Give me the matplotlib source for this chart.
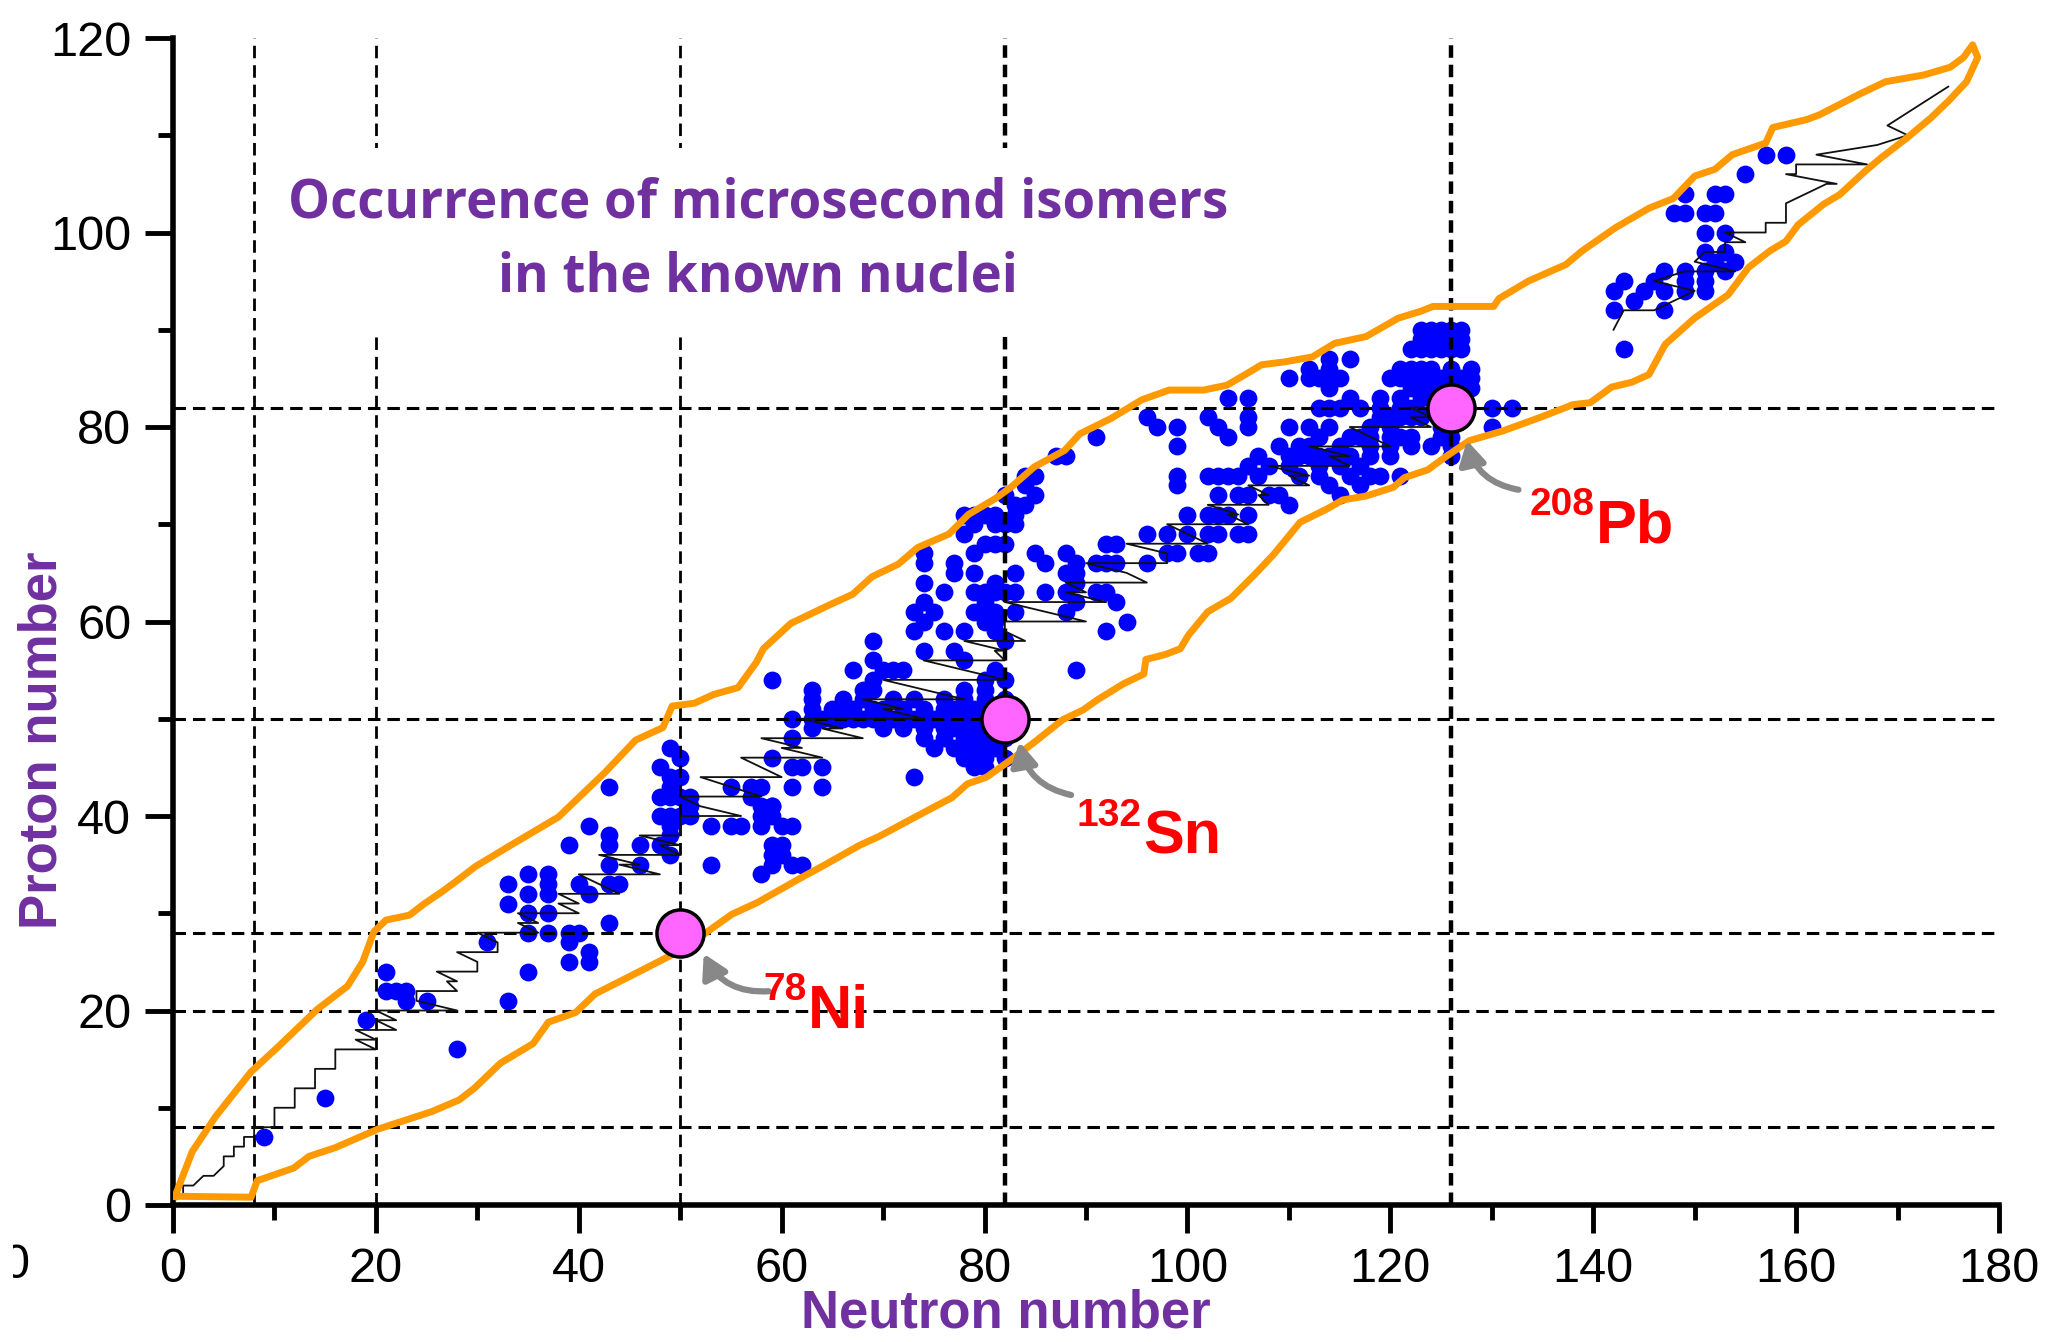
import matplotlib
matplotlib.use("Agg")
import matplotlib.pyplot as plt
from matplotlib.patches import FancyArrowPatch
from matplotlib.transforms import Bbox, TransformedBbox

plt.rcParams['font.family'] = ['Liberation Sans', 'DejaVu Sans']
plt.rcParams['lines.scale_dashes'] = False

# Magic numbers (dashed guide lines)
magic_n = [8, 20, 50, 82, 126]
magic_z = [8, 20, 28, 50, 82]

# Microsecond isomers, (N, Z)
iso_light = [(9, 7), (15, 11), (19, 19), (21, 24), (21, 22), (22, 22), (23, 21), (23, 22), (25, 21),
             (28, 16), (31, 27), (33, 21), (35, 24)]
iso_ge = [(33, 33), (33, 31), (35, 34), (35, 32), (35, 30), (35, 28), (37, 34), (37, 33), (37, 32),
          (37, 30), (37, 28), (39, 28), (40, 28), (39, 27), (39, 25), (41, 26), (41, 25), (39, 37),
          (41, 39), (40, 33), (41, 32), (43, 43), (43, 38), (43, 37), (43, 35), (43, 29), (44, 33),
          (46, 37), (46, 35), (43, 33)]
iso_zr = [(48, 40), (49, 47), (50, 46), (49, 44), (49, 43), (48, 45), (50, 44), (48, 42), (49, 42),
          (50, 42), (51, 42), (49, 40), (50, 40), (49, 39), (49, 38), (48, 37), (49, 36), (51, 41),
          (51, 40), (53, 39), (55, 39), (56, 39), (53, 35), (55, 43), (57, 43), (57, 42), (58, 43),
          (58, 41), (59, 41), (58, 40), (59, 40), (58, 39), (60, 39), (61, 39), (59, 37), (60, 37),
          (59, 36), (60, 36), (59, 35), (61, 35), (62, 35), (58, 34), (59, 46), (61, 45), (62, 45),
          (64, 45), (61, 43), (64, 43), (59, 54), (63, 53), (63, 52), (63, 51), (61, 50), (63, 50),
          (61, 48), (63, 49), (59, 41), (65, 51), (66, 51)]
iso_sn = [(n, 50) for n in range(64, 83)] + \
    [(66, 52), (68, 52), (71, 52), (73, 52), (76, 52), (78, 52), (80, 52), (82, 52),
     (67, 51), (69, 51), (70, 51), (72, 51), (74, 51), (76, 51), (77, 51), (78, 51), (79, 51),
     (80, 51), (81, 51), (70, 49), (72, 49), (74, 49), (76, 49), (77, 49), (78, 49), (79, 49),
     (80, 49), (81, 49), (74, 48), (76, 48), (78, 48), (79, 48), (80, 48), (81, 48), (82, 48),
     (75, 47), (77, 47), (78, 47), (79, 47), (80, 47), (81, 47), (78, 46), (79, 46), (80, 46),
     (82, 46), (79, 45), (80, 45), (73, 44), (68, 53), (69, 53), (78, 53), (80, 53), (69, 54),
     (80, 54), (82, 54), (67, 55), (70, 55), (71, 55), (72, 55), (81, 55), (89, 55), (69, 56),
     (78, 56), (74, 57), (77, 57), (69, 58), (82, 58), (73, 59), (76, 59), (78, 59), (81, 59)]
iso_rare = [(74, 67), (74, 66), (77, 66), (77, 65), (79, 65), (74, 64), (76, 63), (73, 61), (74, 62),
            (75, 61), (74, 60), (79, 71), (81, 71), (80, 68), (81, 68), (82, 68), (78, 69), (78, 71),
            (80, 71), (81, 70), (82, 70), (83, 70), (82, 73), (83, 72), (84, 74), (85, 75), (85, 73),
            (84, 75), (84, 72), (83, 71), (80, 63), (81, 63), (82, 63), (83, 63), (80, 61), (80, 60),
            (81, 60), (81, 61), (83, 65), (83, 61), (85, 67), (86, 63), (88, 63), (88, 67), (89, 66),
            (88, 65), (89, 65), (89, 64), (89, 62), (88, 61), (91, 66), (91, 63), (92, 68), (92, 66),
            (92, 63), (92, 59), (93, 68), (93, 66), (93, 62), (94, 60), (96, 69), (96, 66), (91, 79),
            (87, 77), (88, 77), (86, 66), (79, 63), (79, 61), (80, 62), (81, 64), (79, 67), (79, 70)]
iso_hf = [(99, 80), (99, 78), (99, 75), (99, 74), (96, 81), (97, 80), (102, 81), (103, 80), (104, 79),
          (102, 75), (104, 83), (106, 83), (106, 81), (106, 80), (107, 77), (106, 76), (105, 75),
          (104, 75), (98, 67), (99, 67), (101, 67), (102, 67), (98, 69), (100, 69), (102, 69),
          (103, 69), (105, 69), (106, 69), (100, 71), (102, 71), (103, 71), (104, 71), (106, 71),
          (103, 73), (105, 73), (106, 73), (108, 73), (109, 73), (110, 72), (103, 75), (107, 75),
          (111, 75), (113, 75), (116, 75), (118, 75), (119, 75), (121, 75), (108, 76), (110, 76),
          (113, 76), (115, 76), (117, 76), (114, 74), (117, 74), (115, 73), (110, 80), (112, 80),
          (114, 80), (113, 79)]
iso_pb = [(110, 77), (111, 77), (112, 77), (113, 77), (114, 77), (115, 77), (116, 77), (118, 77),
          (120, 77), (126, 77), (109, 78), (111, 78), (112, 78), (115, 78), (118, 78), (120, 78),
          (122, 78), (124, 78), (126, 78), (116, 79), (117, 79), (118, 79), (120, 79), (121, 79),
          (122, 79), (125, 79), (126, 79), (118, 80), (120, 80), (125, 80), (126, 80), (130, 80),
          (119, 81), (120, 81), (121, 81), (122, 81), (123, 81), (125, 81), (127, 81), (113, 82),
          (114, 82), (115, 82), (117, 82), (119, 82), (121, 82), (122, 82), (130, 82), (132, 82),
          (116, 83), (119, 83), (121, 83), (123, 83), (114, 84), (122, 84), (123, 84), (124, 84),
          (125, 84), (126, 84), (127, 84), (128, 84), (110, 85), (112, 85), (113, 85), (114, 85),
          (115, 85), (120, 85), (121, 85), (122, 85), (123, 85), (124, 85), (125, 85), (126, 85),
          (127, 85), (128, 85), (112, 86), (114, 86), (121, 86), (122, 86), (123, 86), (124, 86),
          (126, 86), (128, 86), (114, 87), (116, 87), (122, 88), (123, 88), (124, 88), (125, 88),
          (126, 88), (127, 88), (123, 89), (124, 89), (125, 89), (126, 89), (127, 89), (123, 90),
          (124, 90), (125, 90), (126, 90), (127, 90)]
iso_heavy = [(157, 108), (159, 108), (155, 106), (149, 104), (152, 104), (153, 104), (148, 102),
             (149, 102), (151, 102), (152, 102), (151, 100), (153, 100), (151, 98), (153, 98),
             (154, 97), (152, 97), (153, 96), (151, 96), (151, 95), (151, 94), (147, 96), (149, 96),
             (149, 95), (146, 95), (147, 94), (145, 94), (143, 95), (142, 94), (144, 93), (149, 94),
             (142, 92), (147, 92), (143, 88)]

# Stable nuclei: lightest and heaviest stable N for each Z
stable_z = list(range(1, 43)) + list(range(44, 61)) + list(range(62, 84))
stable_nmin = [0, 1, 3, 5, 5, 6, 7, 8, 10, 10, 12, 12, 14, 14, 16, 16, 18, 18, 20, 20, 24, 24, 27, 26,
               30, 28, 32, 30, 34, 34, 38, 38, 42, 40, 44, 42, 48, 46, 50, 50, 52, 50,
               52, 58, 56, 60, 58, 64, 62, 70, 68, 74, 70, 78, 74, 81, 78, 82, 82,
               82, 88, 88, 94, 90, 98, 94, 100, 98, 104, 102, 107, 106, 110, 108, 114, 112, 118,
               116, 122, 122, 126]
stable_nmax = [1, 2, 4, 5, 6, 7, 8, 10, 10, 12, 12, 14, 14, 16, 16, 20, 20, 22, 22, 28, 24, 28, 28, 30,
               30, 32, 32, 36, 36, 40, 40, 44, 42, 48, 46, 50, 50, 50, 50, 56, 52, 58,
               60, 58, 64, 62, 68, 66, 74, 72, 78, 74, 82, 78, 82, 82, 84, 82, 90,
               92, 90, 96, 94, 98, 98, 102, 100, 106, 105, 108, 108, 112, 112, 116, 116, 120, 118,
               124, 124, 126, 126]

# Longest-lived actinides and beyond
heavy_line_n = [142, 143, 146, 150, 146, 149, 154, 150, 151, 153, 153, 155, 153, 157, 157, 159, 159,
                163, 164, 159, 160, 160, 167, 162, 168, 171, 169, 175]
heavy_line_z = [90, 92, 92, 94, 95, 96, 96, 97, 98, 98, 99, 99, 100, 100, 101, 101, 103,
                105, 105, 106, 106, 107, 107, 108, 109, 110, 111, 115]

# Boundary of the known nuclei
upper_n = [0.2, 1.9, 4.2, 7.7, 10.4, 14.2, 17.2, 18.7, 19.8, 21, 23.3, 24.8, 26.5, 27.8, 29.8, 33.3,
           38, 40.6, 42.6, 45.6, 48.3, 49.2, 51.4, 53.3, 55.7, 57.5, 58.2, 60.9, 64.7, 67, 68.9,
           71.5, 73.4, 76.5, 78.4, 81, 82.6, 84.9, 87.9, 89.4, 92.5, 95.5, 98.2, 101.6, 103.9,
           106.2, 107.3, 109.6, 112.3, 114.5, 117.6, 120.8, 123, 124.2, 130.2, 130.7, 133.6, 137.3,
           138.9, 142.2, 145.5, 147.9, 150, 152, 153.7, 157, 157.7, 161, 162.3, 166.2, 168.8,
           172.6, 175.2, 176.5, 177.4]
upper_z = [0.9, 5.5, 9.1, 13.7, 16.3, 20.1, 22.5, 25, 28.1, 29.3, 29.8, 31, 32.2, 33.2, 34.8, 37,
           39.9, 42.5, 44.5, 47.8, 49.1, 51.3, 51.6, 52.5, 53.2, 55.8, 57.2, 59.8, 61.7, 62.8, 64.6,
           65.9, 67.6, 69, 71, 72.6, 73.8, 75.9, 77.6, 79.3, 80.9, 82.8, 83.8, 83.8, 84.3,
           85.7, 86.4, 86.7, 87.2, 88.6, 89.3, 91.2, 91.9, 92.4, 92.4, 93.2, 95, 96.7,
           98.1, 100.5, 102.5, 103.5, 105.8, 106.5, 108, 109.2, 110.8, 111.6, 112.1, 114.2, 115.5,
           116.2, 117, 118, 119.3]
lower_n = [0.2, 7.7, 8.3, 11.9, 13.4, 16, 20.2, 25.5, 28.2, 29.7, 32.3, 35.5, 37, 39.7, 41.6, 45.2,
           49.7, 52, 55.1, 57.6, 62, 64.3, 67.7, 69.6, 73, 76.8, 78.3, 80.2, 82.5, 84.8, 87.7, 89.7,
           91.2, 93.7, 95.7, 95.9, 97.8, 99.3, 100.1, 102, 104.3, 106.6, 108.5, 111.1, 113.8, 115.3,
           117.6, 120.3, 121.4, 123.7, 125.4, 127.8, 131.1, 134.8, 138, 139.7, 141.8, 143.8, 145.5,
           147.1, 150, 153.3, 155.3, 157.4, 159, 160.2, 162.7, 164.3, 166.8, 168.4, 170.9, 173.3,
           175, 176.8, 177.9]
lower_z = [0.9, 0.8, 2.5, 3.8, 5, 5.9, 7.8, 9.6, 10.8, 12, 14.6, 16.6, 18.8, 19.8, 21.7, 23.6,
           26, 27.6, 29.9, 31.1, 33.7, 35, 37, 37.9, 39.8, 41.9, 43.3, 44, 45.7, 47.5, 49.9, 50.9,
           52, 53.6, 54.6, 56.1, 56.6, 57.2, 58.6, 61, 62.4, 64.8, 66.9, 70.2, 71.6, 72.5,
           72.9, 73.8, 74.8, 75.6, 76.9, 78.6, 79.6, 81, 82.3, 82.5, 84.1, 84.6, 85.4,
           88.5, 91.2, 93.6, 96.4, 98.1, 99.1, 100.8, 102.9, 103.9, 106.3, 107.7, 109.7, 111.8,
           113.5, 115.5, 118]

# Doubly magic nuclei and their labels
dm_n = [50, 82, 126]
dm_z = [28, 50, 82]
dm_mass = ["78", "132", "208"]
dm_elem = ["Ni", "Sn", "Pb"]
label_pos = [(62.6, 18.2), (95.6, 36.1), (140.3, 68.1)]
arrow_tail = [(59.0, 22.0), (88.8, 42.1), (132.9, 73.5)]
arrow_tip = [(52.2, 26.1), (83.4, 47.9), (127.5, 78.9)]

W, H = 2053, 1342
fig = plt.figure(figsize=(W / 100, H / 100), dpi=100)
ax = fig.add_axes([173 / W, 137 / H, 1826 / W, 1167 / H])
ax.set_xlim(0, 180)
ax.set_ylim(0, 120)

isomers = iso_light + iso_ge + iso_zr + iso_sn + iso_rare + iso_hf + iso_pb + iso_heavy
ax.scatter([p[0] for p in isomers], [p[1] for p in isomers], s=165, color='#0000ff',
           linewidths=0, zorder=2)

for n in magic_n:
    lw = 3.2 if n in (82, 126) else 2.0
    ax.axvline(n, color='black', lw=lw, dashes=(9, 5), zorder=3)
for z in magic_z:
    ax.axhline(z, color='black', lw=2.2, dashes=(9, 5), zorder=3)

# line of stability
path_n, path_z = [], []
for z, n0, n1 in zip(stable_z, stable_nmin, stable_nmax):
    path_n += [n0, n1]
    path_z += [z, z]
ax.plot(path_n, path_z, color='#111111', lw=1.3, zorder=4)
ax.plot(heavy_line_n, heavy_line_z, color='#111111', lw=1.3, zorder=4)

env_n = upper_n + lower_n[::-1]
env_z = upper_z + lower_z[::-1]
ax.plot(env_n, env_z, color='#ff9900', lw=5, solid_joinstyle='round', zorder=5)

ax.scatter(dm_n, dm_z, s=1150, color='#ff66ff', edgecolors='black', linewidths=2.5, zorder=7)

for (tx, ty), (hx, hy) in zip(arrow_tail, arrow_tip):
    ax.add_patch(FancyArrowPatch((tx, ty), (hx, hy), connectionstyle='arc3,rad=-0.35',
                                 arrowstyle='-|>,head_length=14,head_width=8',
                                 color='#888888', lw=4.5, zorder=6))

for (lx, ly), mass, elem in zip(label_pos, dm_mass, dm_elem):
    ax.text(lx, ly, elem, ha='left', va='baseline', fontsize=44, fontweight='bold',
            color='#ff0000', zorder=8)
    ax.annotate(mass, xy=(lx, ly), xytext=(-1, 20), textcoords='offset points', ha='right',
                va='baseline', fontsize=28, fontweight='bold', color='#ff0000', zorder=8)

ax.text(57.7, 99.2, "Occurrence of microsecond isomers\nin the known nuclei", ha='center',
        va='center', fontsize=38, fontweight='bold', color='#7030a0', family='Open Sans',
        linespacing=1.5, zorder=9,
        bbox=dict(facecolor='white', edgecolor='none', pad=20))

for side in ('top', 'right'):
    ax.spines[side].set_visible(False)
for side in ('left', 'bottom'):
    ax.spines[side].set_linewidth(4)
ax.set_xticks(range(0, 181, 20))
ax.set_xticks(range(10, 180, 20), minor=True)
ax.set_yticks(range(0, 121, 20))
ax.set_yticks(range(10, 120, 20), minor=True)
ax.tick_params(which='major', direction='out', length=20, width=3.5, labelsize=35, pad=10)
ax.tick_params(which='minor', direction='out', length=11, width=3.5)

ax.text(0.456, -0.093, "Neutron number", transform=ax.transAxes, ha='center', va='center',
        fontsize=38, fontweight='bold', color='#7030a0')
ax.text(-0.0717, 0.398, "Proton number", transform=ax.transAxes, ha='center', va='center',
        rotation=90, fontsize=38, fontweight='bold', color='#7030a0')

stray = fig.text(29 / W, 1 - 1265 / H, "0", ha='right', va='center', fontsize=35)
stray.set_clip_box(TransformedBbox(Bbox.from_extents(13 / W, 0, 1, 1), fig.transFigure))
stray.set_clip_on(True)

fig.savefig("out.png", dpi=100)
